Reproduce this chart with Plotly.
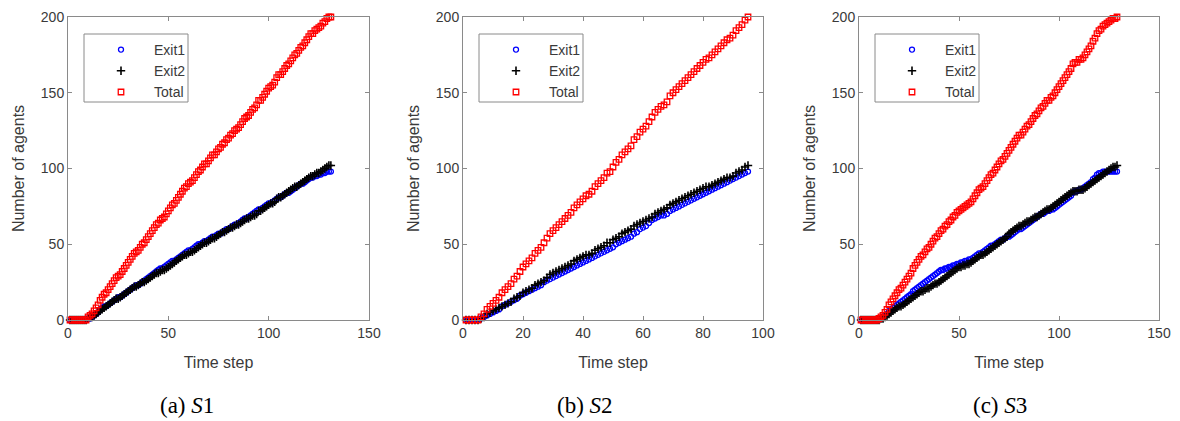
import plotly.graph_objects as go

# ---------------- data (cumulative evacuated agents per time step) ----------------
s1_exit1 = [0,0,0,0,0,0,0,0,0,1,
            1,2,3,4,5,7,8,9,9,10,
            11,12,13,14,15,15,16,17,18,19,
            20,21,22,23,23,24,25,26,27,28,
            29,30,31,32,33,34,34,35,36,37,
            38,39,39,40,41,42,43,44,45,46,
            46,47,48,49,50,50,51,52,52,53,
            54,55,55,56,57,57,58,59,60,60,
            61,62,63,63,64,65,66,67,67,68,
            69,70,71,72,73,73,74,75,76,77,
            77,78,79,80,81,81,82,83,84,84,
            85,86,87,88,89,90,90,91,92,93,
            94,94,95,95,96,96,97,97,98,98,
            98]
s1_exit2 = [0,0,0,0,0,0,0,0,0,1,
            2,2,3,4,5,6,7,8,9,10,
            11,12,13,14,14,15,16,17,18,19,
            20,21,22,22,23,24,25,25,26,27,
            28,29,30,31,31,32,33,33,34,35,
            36,37,38,39,40,41,42,43,43,44,
            45,45,46,47,48,49,50,51,51,52,
            53,54,54,55,56,57,58,58,59,60,
            61,61,62,63,63,64,65,66,67,67,
            68,69,69,70,72,72,73,74,75,76,
            77,77,78,80,81,81,82,83,84,85,
            86,87,88,88,89,90,91,92,93,94,
            95,95,96,97,97,98,99,100,101,102,
            102]

s2_exit1 = [0,0,0,0,0,1,2,3,4,5,
            6,7,9,10,11,12,13,14,16,17,
            18,19,20,21,22,23,25,26,27,28,
            29,30,31,32,33,34,35,36,37,38,
            39,40,41,42,43,44,45,46,47,48,
            50,51,52,53,54,55,57,58,60,61,
            62,64,66,67,68,69,69,70,72,73,
            74,75,76,77,78,79,80,81,82,83,
            84,85,86,87,88,89,90,91,92,93,
            94,95,96,97,98]
s2_exit2 = [0,0,0,0,0,1,2,4,5,6,
            7,8,9,10,11,12,14,15,16,18,
            19,20,21,23,24,25,26,28,30,31,
            32,33,34,35,36,37,39,40,41,42,
            43,43,44,46,47,48,49,51,51,53,
            54,55,57,58,59,60,62,63,64,65,
            66,67,68,70,71,72,73,74,76,77,
            78,79,80,81,82,83,84,85,86,87,
            88,88,89,90,91,92,93,94,94,95,
            97,98,99,101,102]

s3_exit1 = [0,0,0,0,0,0,0,0,0,1,
            1,2,3,4,6,7,8,9,10,11,
            12,13,14,15,16,17,19,20,21,22,
            23,24,25,26,27,28,29,30,31,32,
            33,33,34,34,35,35,36,36,37,37,
            38,38,39,39,40,40,41,42,43,44,
            44,45,46,47,48,49,49,50,51,52,
            53,53,54,55,55,56,57,58,59,60,
            60,61,62,63,64,65,66,67,68,69,
            70,70,71,72,72,73,73,74,75,76,
            77,78,79,80,81,82,84,85,85,86,
            86,87,88,89,90,91,93,94,96,97,
            97,98,98,98,98,98,98,98,98]
s3_exit2 = [0,0,0,0,0,0,0,0,0,0,
            1,1,2,3,4,5,6,7,8,9,
            9,10,11,12,13,14,15,16,17,18,
            19,19,20,21,21,22,23,24,24,25,
            26,27,28,29,30,31,32,33,34,35,
            35,36,36,37,37,38,39,40,41,42,
            43,43,44,45,46,47,48,49,50,51,
            52,53,54,55,57,58,59,60,61,62,
            62,63,64,65,65,66,67,68,68,69,
            70,71,72,73,73,74,75,76,77,78,
            79,80,81,82,83,84,85,85,85,86,
            86,86,87,88,89,90,91,92,93,94,
            95,96,97,98,99,100,101,101,102]

captions = ["(a) <i>S</i>1", "(b) <i>S</i>2", "(c) <i>S</i>3"]
exit1_sets = [s1_exit1, s2_exit1, s3_exit1]
exit2_sets = [s1_exit2, s2_exit2, s3_exit2]
x_max = [150, 100, 150]
x_ticks = [[0, 50, 100, 150], [0, 20, 40, 60, 80, 100], [0, 50, 100, 150]]
y_ticks = [0, 50, 100, 150, 200]
series_names = ["Exit1", "Exit2", "Total"]

# ---------------- layout geometry (window pixels) ----------------
OFF = 8                       # page body margin
WF, HF = 1180 - OFF, 421 - OFF
panel_left = [68, 463, 859]
panel_right = [369, 763, 1159]
top_px, bot_px = 17, 320
caption_cx = [187, 585, 1000]
caption_cy = 405
leg_box = (16, 34, 120, 102)  # left, top, right, bottom offsets relative to panel left / window top


def px_x(p):
    return (p - OFF) / WF


def px_y(p):
    return 1 - (p - OFF) / HF


fig = go.Figure()
AX = "#8a8a8a"
TXT = "#3a3a3a"
FONT = "Liberation Sans, Arial, sans-serif"

for i in range(3):
    e1, e2 = exit1_sets[i], exit2_sets[i]
    n = i + 1
    xa = "x" if n == 1 else f"x{n}"
    ya = "y" if n == 1 else f"y{n}"
    lg = "legend" if n == 1 else f"legend{n}"
    t = list(range(1, len(e1) + 1))
    total = [a + b for a, b in zip(e1, e2)]
    fig.add_trace(go.Scatter(x=t, y=e1, mode="markers", name=series_names[0],
                             xaxis=xa, yaxis=ya, legend=lg, cliponaxis=False,
                             marker=dict(symbol="circle-open", size=5, color="#0000ff",
                                         line=dict(width=1.3, color="#0000ff"))))
    fig.add_trace(go.Scatter(x=t, y=e2, mode="markers", name=series_names[1],
                             xaxis=xa, yaxis=ya, legend=lg, cliponaxis=False,
                             marker=dict(symbol="cross-thin", size=6, color="#000000",
                                         line=dict(width=1.6, color="#000000"))))
    fig.add_trace(go.Scatter(x=t, y=total, mode="markers", name=series_names[2],
                             xaxis=xa, yaxis=ya, legend=lg, cliponaxis=False,
                             marker=dict(symbol="square-open", size=5.5, color="#ff0000",
                                         line=dict(width=1.3, color="#ff0000"))))

    axis_common = dict(showline=True, linecolor=AX, linewidth=1, mirror="ticks",
                       ticks="inside", ticklen=4, tickcolor=AX, showgrid=False,
                       zeroline=False, automargin=False,
                       tickfont=dict(family=FONT, size=14, color=TXT))
    xkey = "xaxis" if n == 1 else f"xaxis{n}"
    ykey = "yaxis" if n == 1 else f"yaxis{n}"
    bl = panel_left[i] + leg_box[0]
    br = panel_left[i] + leg_box[2]
    fig.update_layout({
        xkey: dict(axis_common, domain=[px_x(panel_left[i]), px_x(panel_right[i])],
                   range=[0, x_max[i]], tickvals=x_ticks[i], anchor=ya,
                   title=dict(text="Time step", standoff=17,
                              font=dict(family=FONT, size=16, color=TXT))),
        ykey: dict(axis_common, domain=[px_y(bot_px), px_y(top_px)],
                   range=[0, 200], tickvals=y_ticks, anchor=xa,
                   title=dict(text="Number of agents", standoff=12,
                              font=dict(family=FONT, size=16, color=TXT))),
        lg: dict(x=px_x(bl + 4), y=px_y(leg_box[1]), xanchor="left", yanchor="top",
                 bgcolor="rgba(0,0,0,0)", borderwidth=0,
                 font=dict(family=FONT, size=14, color=TXT), tracegroupgap=0,
                 itemwidth=56),
    })
    fig.add_shape(type="rect", xref="paper", yref="paper", layer="below",
                  x0=px_x(bl), x1=px_x(br), y0=px_y(leg_box[3]), y1=px_y(leg_box[1]),
                  line=dict(color=AX, width=1), fillcolor="white")
    fig.add_annotation(text=captions[i], x=px_x(caption_cx[i]), y=px_y(caption_cy),
                       xref="paper", yref="paper", showarrow=False,
                       xanchor="center", yanchor="middle",
                       font=dict(family="Liberation Serif, Times New Roman, serif",
                                 size=23, color="#000000"))

fig.update_layout(width=WF, height=HF, margin=dict(l=0, r=0, t=0, b=0),
                  paper_bgcolor="white", plot_bgcolor="white", showlegend=True)

fig.write_html("out.html")
